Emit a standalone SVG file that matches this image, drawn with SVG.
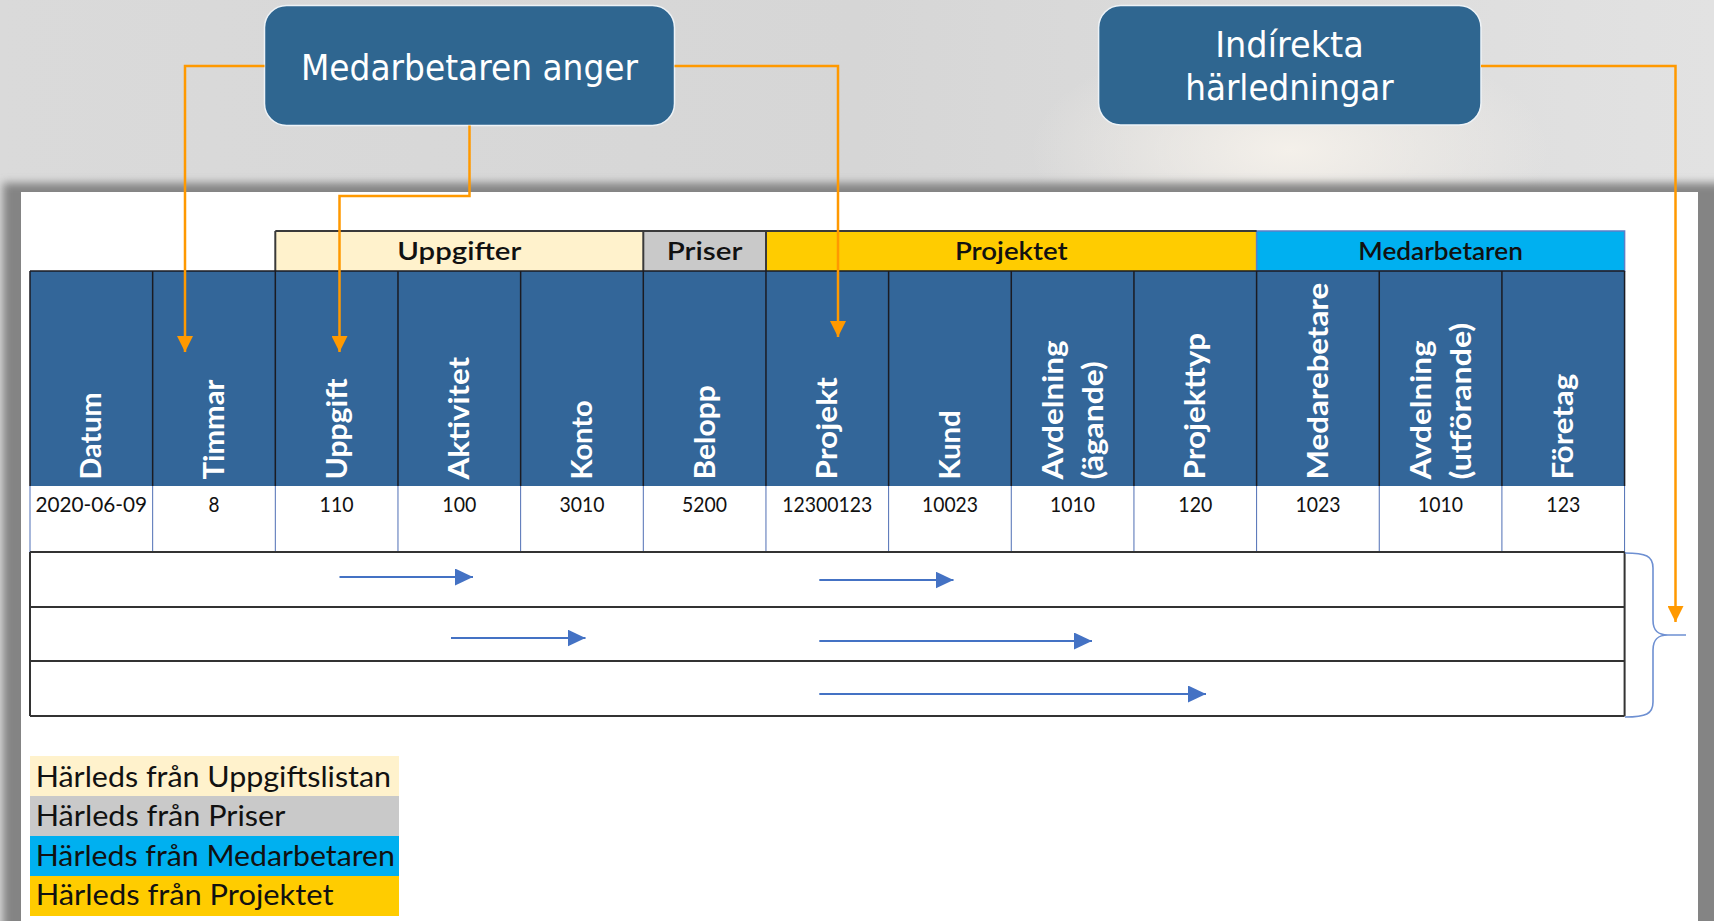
<svg xmlns="http://www.w3.org/2000/svg" width="1714" height="921" viewBox="0 0 1714 921">
<defs>
<style>
.hd{font-family:Lato,"Open Sans","Liberation Sans",sans-serif;font-weight:700;font-size:29px;fill:#ffffff}
.val{font-family:Lato,"Liberation Sans",sans-serif;font-size:22px;fill:#111111;text-anchor:middle}
.grp{font-family:Lato,"Liberation Sans",sans-serif;font-weight:600;font-size:25px;fill:#111111;text-anchor:middle}
.leg{font-family:Lato,"Liberation Sans",sans-serif;font-size:28px;fill:#111111}
.box{fill:#2F6690;stroke:#EEF3F7;stroke-width:1.5}
.boxt{font-family:"DejaVu Sans","Liberation Sans",sans-serif;font-size:36px;fill:#ffffff;text-anchor:middle}
.vd{stroke:#1b1b22;stroke-width:1.5}
.vl{stroke:#4F6FB5;stroke-width:1}
.hl{stroke:#333333;stroke-width:2;fill:none}
.orange{fill:none;stroke:#FF9900;stroke-width:2.5}
.blue{fill:none;stroke:#4472C4;stroke-width:2}
</style>
<linearGradient id="bg" x1="0" y1="0" x2="1" y2="0">
<stop offset="0" stop-color="#dadada"/>
<stop offset="0.5" stop-color="#d6d6d6"/>
<stop offset="1" stop-color="#e2e2e2"/>
</linearGradient>
<radialGradient id="glow" cx="1290" cy="150" r="260" gradientUnits="userSpaceOnUse" gradientTransform="translate(1290 150) scale(1 0.45) translate(-1290 -150)">
<stop offset="0" stop-color="#f4f0ea" stop-opacity="1"/>
<stop offset="1" stop-color="#f4f0ea" stop-opacity="0"/>
</radialGradient>
<filter id="blur" x="-5%" y="-5%" width="110%" height="110%">
<feGaussianBlur stdDeviation="4"/>
</filter>
<marker id="oa" markerUnits="userSpaceOnUse" markerWidth="16" markerHeight="16" viewBox="0 0 16 16" refX="16" refY="8" orient="auto">
<path d="M0,0 L16,8 L0,16 z" fill="#FF9900"/>
</marker>
<marker id="ba" markerUnits="userSpaceOnUse" markerWidth="18" markerHeight="17" viewBox="0 0 18 17" refX="18" refY="8.5" orient="auto">
<path d="M0,0 L18,8.5 L0,17 z" fill="#4472C4"/>
</marker>
</defs>

<g id="background">
<rect x="0" y="0" width="1714" height="921" fill="url(#bg)"/>
<rect x="900" y="0" width="814" height="260" fill="url(#glow)"/>
</g>

<g id="panel">
<rect x="3" y="183" width="1760" height="800" fill="#848484" filter="url(#blur)"/>
<rect x="21" y="192" width="1677" height="729" fill="#ffffff"/>
</g>

<g id="table">
<!-- group header row -->
<rect x="275.3" y="231" width="368" height="40" fill="#FFF2CC"/>
<rect x="643.3" y="231" width="122.7" height="40" fill="#C9C9C9"/>
<rect x="766" y="231" width="490.6" height="40" fill="#FFCC00"/>
<rect x="1256.6" y="231" width="368" height="40" fill="#00B0F0" stroke="#5B7FC8" stroke-width="1.5"/>
<path d="M275.3,231 H1256.6 M275.3,231 V271 M643.3,231 V271 M766,231 V271" stroke="#3a3a3a" stroke-width="2" fill="none"/>
<text class="grp" x="459.3" y="260" textLength="124" lengthAdjust="spacingAndGlyphs">Uppgifter</text>
<text class="grp" x="704.6" y="260" textLength="75.7" lengthAdjust="spacingAndGlyphs">Priser</text>
<text class="grp" x="1011.3" y="260" textLength="112.7" lengthAdjust="spacingAndGlyphs">Projektet</text>
<text class="grp" x="1440.6" y="260" textLength="164.5" lengthAdjust="spacingAndGlyphs">Medarbetaren</text>

<!-- blue header -->
<rect x="30" y="271" width="1594.6" height="215" fill="#336699"/>
<path class="vd" d="M30,271 H1624.6 M30,271 V486 M152.66,271 V486 M275.32,271 V486 M397.98,271 V486 M520.64,271 V486 M643.3,271 V486 M765.96,271 V486 M888.62,271 V486 M1011.28,271 V486 M1133.94,271 V486 M1256.6,271 V486 M1379.26,271 V486 M1501.92,271 V486 M1624.58,271 V486"/>

<text class="hd" transform="translate(101.3,479.5) rotate(-90)" textLength="87" lengthAdjust="spacingAndGlyphs">Datum</text>
<text class="hd" transform="translate(224,479.5) rotate(-90)" textLength="100" lengthAdjust="spacingAndGlyphs">Timmar</text>
<text class="hd" transform="translate(346.6,479.5) rotate(-90)" textLength="101" lengthAdjust="spacingAndGlyphs">Uppgift</text>
<text class="hd" transform="translate(469.3,479.5) rotate(-90)" textLength="122.6" lengthAdjust="spacingAndGlyphs">Aktivitet</text>
<text class="hd" transform="translate(592,479.5) rotate(-90)" textLength="79.3" lengthAdjust="spacingAndGlyphs">Konto</text>
<text class="hd" transform="translate(714.6,479.5) rotate(-90)" textLength="94.3" lengthAdjust="spacingAndGlyphs">Belopp</text>
<text class="hd" transform="translate(837.3,479.5) rotate(-90)" textLength="102.3" lengthAdjust="spacingAndGlyphs">Projekt</text>
<text class="hd" transform="translate(960,479.5) rotate(-90)" textLength="69.3" lengthAdjust="spacingAndGlyphs">Kund</text>
<text class="hd" transform="translate(1063.1,479.5) rotate(-90)" textLength="139" lengthAdjust="spacingAndGlyphs">Avdelning</text>
<text class="hd" transform="translate(1102.6,479.5) rotate(-90)" textLength="118.3" lengthAdjust="spacingAndGlyphs">(ägande)</text>
<text class="hd" transform="translate(1205.3,479.5) rotate(-90)" textLength="146.7" lengthAdjust="spacingAndGlyphs">Projekttyp</text>
<text class="hd" transform="translate(1327.9,479.5) rotate(-90)" textLength="196.7" lengthAdjust="spacingAndGlyphs">Medarebetare</text>
<text class="hd" transform="translate(1431.1,479.5) rotate(-90)" textLength="139" lengthAdjust="spacingAndGlyphs">Avdelning</text>
<text class="hd" transform="translate(1470.6,479.5) rotate(-90)" textLength="156.7" lengthAdjust="spacingAndGlyphs">(utförande)</text>
<text class="hd" transform="translate(1573.3,479.5) rotate(-90)" textLength="105.7" lengthAdjust="spacingAndGlyphs">Företag</text>

<!-- data row -->
<path class="vl" d="M30,486 V552 M152.66,486 V552 M275.32,486 V552 M397.98,486 V552 M520.64,486 V552 M643.3,486 V552 M765.96,486 V552 M888.62,486 V552 M1011.28,486 V552 M1133.94,486 V552 M1256.6,486 V552 M1379.26,486 V552 M1501.92,486 V552 M1624.58,486 V552"/>
<text class="val" x="91.3" y="511.5" textLength="111.7" lengthAdjust="spacingAndGlyphs">2020-06-09</text>
<text class="val" x="214" y="511.5" textLength="11" lengthAdjust="spacingAndGlyphs">8</text>
<text class="val" x="336.6" y="511.5" textLength="34" lengthAdjust="spacingAndGlyphs">110</text>
<text class="val" x="459.3" y="511.5" textLength="34" lengthAdjust="spacingAndGlyphs">100</text>
<text class="val" x="582" y="511.5" textLength="45" lengthAdjust="spacingAndGlyphs">3010</text>
<text class="val" x="704.6" y="511.5" textLength="45" lengthAdjust="spacingAndGlyphs">5200</text>
<text class="val" x="827.3" y="511.5" textLength="90" lengthAdjust="spacingAndGlyphs">12300123</text>
<text class="val" x="950" y="511.5" textLength="56" lengthAdjust="spacingAndGlyphs">10023</text>
<text class="val" x="1072.6" y="511.5" textLength="45" lengthAdjust="spacingAndGlyphs">1010</text>
<text class="val" x="1195.3" y="511.5" textLength="34" lengthAdjust="spacingAndGlyphs">120</text>
<text class="val" x="1317.9" y="511.5" textLength="45" lengthAdjust="spacingAndGlyphs">1023</text>
<text class="val" x="1440.6" y="511.5" textLength="45" lengthAdjust="spacingAndGlyphs">1010</text>
<text class="val" x="1563.3" y="511.5" textLength="34" lengthAdjust="spacingAndGlyphs">123</text>

<!-- lower rows -->
<path class="hl" d="M30,552 H1624.6 M30,607 H1624.6 M30,661 H1624.6 M30,716 H1624.6 M30,552 V716 M1624.6,552 V716"/>
</g>

<g id="legend">
<rect x="30" y="756" width="369" height="40" fill="#FFF2CC"/>
<rect x="30" y="796" width="369" height="40" fill="#C9C9C9"/>
<rect x="30" y="836" width="369" height="40" fill="#00B0F0"/>
<rect x="30" y="876" width="369" height="40" fill="#FFCC00"/>
<text class="leg" x="35.7" y="786.5" textLength="355.4" lengthAdjust="spacingAndGlyphs">Härleds från Uppgiftslistan</text>
<text class="leg" x="35.7" y="826" textLength="249.6" lengthAdjust="spacingAndGlyphs">Härleds från Priser</text>
<text class="leg" x="35.7" y="865.5" textLength="359.3" lengthAdjust="spacingAndGlyphs">Härleds från Medarbetaren</text>
<text class="leg" x="35.7" y="905" textLength="297.8" lengthAdjust="spacingAndGlyphs">Härleds från Projektet</text>
</g>

<g id="node-medarbetaren-anger">
<rect class="box" x="264.5" y="5.5" width="410" height="120" rx="22" ry="22"/>
<text class="boxt" x="469.5" y="80" textLength="337" lengthAdjust="spacingAndGlyphs">Medarbetaren anger</text>
</g>

<g id="node-indirekta-harledningar">
<rect class="box" x="1098.6" y="5.5" width="382.4" height="119.5" rx="22" ry="22"/>
<text class="boxt" x="1289.5" y="57.3" textLength="148.7" lengthAdjust="spacingAndGlyphs">Indírekta</text>
<text class="boxt" x="1289.5" y="100" textLength="208.6" lengthAdjust="spacingAndGlyphs">härledningar</text>
</g>

<g id="connectors">
<path class="orange" d="M264.5,66 H185 V352" marker-end="url(#oa)"/>
<path class="orange" d="M469.5,125.5 V196 H339.5 V352" marker-end="url(#oa)"/>
<path class="orange" d="M674.5,66 H838 V337" marker-end="url(#oa)"/>
<path class="orange" d="M1481,66 H1675.5 V622" marker-end="url(#oa)"/>

<path class="blue" d="M339.5,577 H473" marker-end="url(#ba)"/>
<path class="blue" d="M819.3,580 H953.5" marker-end="url(#ba)"/>
<path class="blue" d="M451,638 H585.5" marker-end="url(#ba)"/>
<path class="blue" d="M819.3,641 H1092" marker-end="url(#ba)"/>
<path class="blue" d="M819.3,694 H1206" marker-end="url(#ba)"/>

<path d="M1625,553 C1646,553 1653,556 1653,568 L1653,620 C1653,631 1658,635 1668,635 L1686,635 M1668,635 C1658,635 1653,639 1653,650 L1653,702 C1653,714 1646,717 1625,717" fill="none" stroke="#6E90D2" stroke-width="1.6"/>
</g>
</svg>
